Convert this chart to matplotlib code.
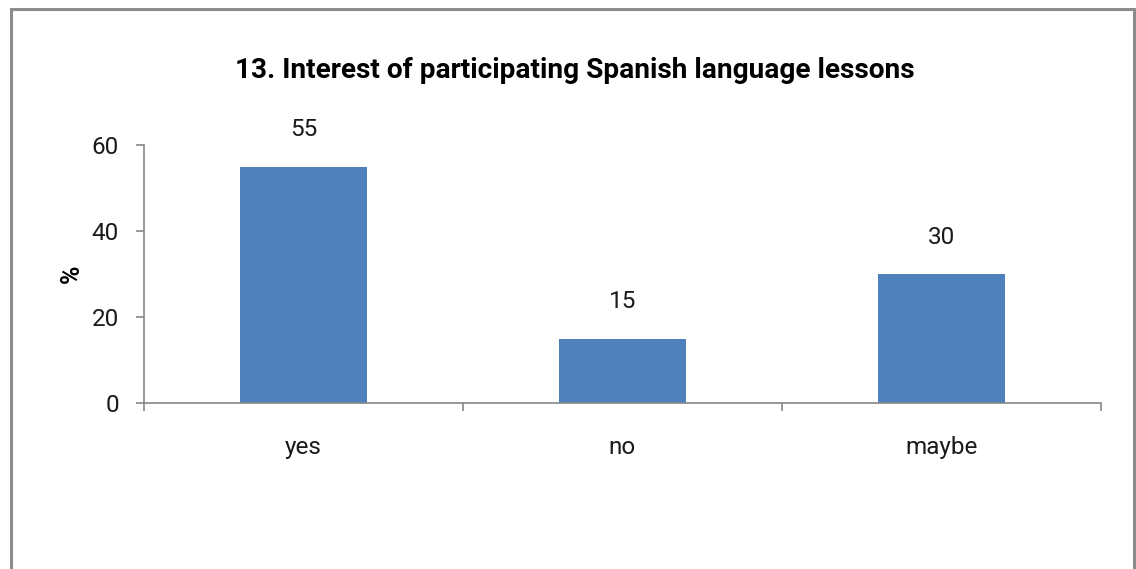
import matplotlib
matplotlib.use("Agg")
import matplotlib.pyplot as plt
from matplotlib.patches import Rectangle

# Survey answers, question 13
categories = ["yes", "no", "maybe"]
percent = [55, 15, 30]
y_ticks = [0, 20, 40, 60]

plt.rcParams["font.family"] = ["Roboto", "DejaVu Sans"]

W, H = 1136, 569
fig = plt.figure(figsize=(W / 100, H / 100), dpi=100)

# outer chart frame
fig.patches.append(Rectangle((11 / W, -0.05), (1134 - 11) / W, 1.05 - 9 / H,
                             transform=fig.transFigure, fill=False,
                             edgecolor="#8c8c8c", linewidth=2.2))

ax = fig.add_axes([144 / W, 1 - 403 / H, (1101 - 144) / W, (403 - 145) / H])
x = list(range(len(categories)))
ax.bar(x, percent, width=0.395, color="#4f81bd")
for xi, v in zip(x, percent):
    ax.annotate(str(v), (xi, v), xytext=(0, 18), textcoords="offset points",
                ha="center", va="bottom", fontsize=17.5, color="#1a1a1a")

ax.set_xlim(-0.5, len(categories) - 0.5)
ax.set_ylim(0, 60)
ax.set_yticks(y_ticks)
ax.set_xticks(x)
ax.set_xticklabels(categories)
ax.set_xticks([i - 0.5 for i in range(len(categories) + 1)], minor=True)
ax.tick_params(axis="x", which="major", length=0, pad=24, labelsize=17.5, labelcolor="#1a1a1a")
ax.tick_params(axis="x", which="minor", length=6, width=1.2, color="#868686", direction="out")
ax.tick_params(axis="y", length=6, width=1.2, color="#868686", pad=12, labelsize=17.5, labelcolor="#1a1a1a")

for s in ("top", "right"):
    ax.spines[s].set_visible(False)
for s in ("left", "bottom"):
    ax.spines[s].set_color("#868686")
    ax.spines[s].set_linewidth(1.2)

ax.set_ylabel("%", fontsize=18, fontweight="bold", labelpad=6)
fig.text(575 / W, 1 - 70 / H, "13. Interest of participating Spanish language lessons",
         ha="center", va="center", fontsize=20.2, fontweight="bold", color="#000000")

fig.savefig("out.png", dpi=100)
